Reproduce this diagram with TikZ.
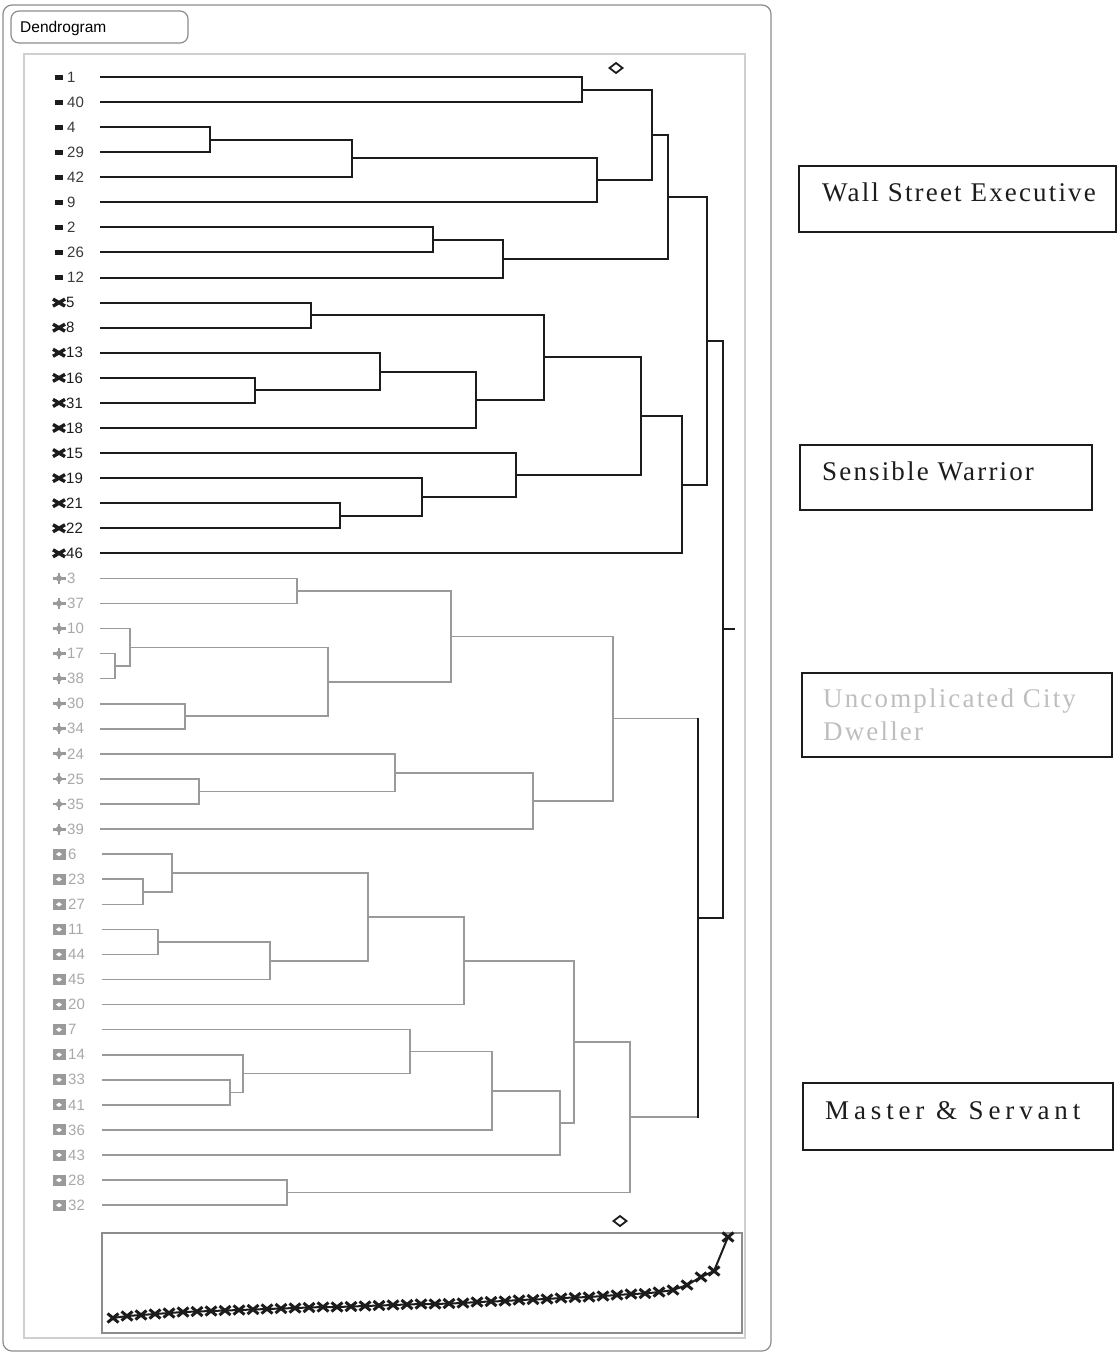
\documentclass[tikz,border=0pt]{standalone}
\usepackage{fontspec}
\setmainfont{Liberation Sans}
\newfontfamily\boxserif[LetterSpace=8]{Liberation Serif}
\newfontfamily\boxserifwide[LetterSpace=18]{Liberation Serif}
\usetikzlibrary{calc}

\definecolor{ink}{HTML}{1C1C1C}
\definecolor{darklabel}{HTML}{3A3A3A}
\definecolor{pale}{HTML}{9A9A9A}
\definecolor{paletext}{HTML}{A8A8A8}
\definecolor{frameline}{HTML}{8C8C8C}
\definecolor{innerline}{HTML}{CFCFCF}
\definecolor{faint}{HTML}{BEBEBE}

% merge two branches at horizontal position #2
% #1 name, #3/#4 children, #5 style of the child links, #6 style of the vertical bar
\newcommand\mergeat[6]{%
  \path let \p1=(#3), \p2=(#4) in (#2pt,{0.5*\y1+0.5*\y2}) coordinate (#1);
  \draw[#5] (#3) -- (#3 -| #1);
  \draw[#5] (#4) -- (#4 -| #1);
  \draw[#6] (#3 -| #1) -- (#4 -| #1);
}

\tikzset{
  darkh/.style={draw=ink, line width=2pt},
  darkv/.style={draw=ink, line width=2pt, line cap=rect},
  paleh/.style={draw=pale, line width=1.6pt},
  palev/.style={draw=pale, line width=1.6pt, line cap=rect},
  lbldark/.style={anchor=west, inner sep=0pt, text=darklabel, font=\fontsize{15}{15}\selectfont},
  lblpale/.style={anchor=west, inner sep=0pt, text=paletext, font=\fontsize{15}{15}\selectfont},
  clusterbox/.style={draw=ink, line width=1.6pt},
  clustertext/.style={anchor=base west, inner sep=0pt, font=\boxserif\fontsize{27}{27}\selectfont},
  sqmark/.pic={\fill[ink] (-4,-2.5) rectangle (4,2.5);},
  xmark/.pic={\draw[ink, line width=3.4pt] (-6,-3.5) -- (6,3.5) (-6,3.5) -- (6,-3.5);},
  plusmark/.pic={\draw[pale, line width=2.8pt] (-6.5,0) -- (6.5,0) (0,-5.5) -- (0,5.5);
                 \fill[pale] (-4,0) -- (0,-4) -- (4,0) -- (0,4) -- cycle;},
  boxmark/.pic={\fill[pale] (-6.5,-5.5) rectangle (6.5,5.5);
                \fill[white] (-3,0) -- (0,-2.2) -- (3,0) -- (0,2.2) -- cycle;},
  chartx/.pic={\draw[ink, line width=3pt] (-5.5,-4.5) -- (5.5,4.5) (-5.5,4.5) -- (5.5,-4.5);},
}

\begin{document}
\begin{tikzpicture}[x=1pt, y=-1pt]
\useasboundingbox (0,0) rectangle (1117,1354);

% panel frames
\draw[frameline, line width=1.2pt, rounded corners=9pt] (3,5) rectangle (771,1351);
\draw[innerline, line width=1.2pt] (24,54) rectangle (745,1338);
\draw[frameline, line width=1.2pt, rounded corners=8pt] (11,11) rectangle (188,43);
\node[anchor=west, inner sep=0pt, font=\fontsize{15.5}{15.5}\selectfont] (title) at (20,28) {Dendrogram};

% leaves
\foreach \id [count=\k from 0] in {1,40,4,29,42,9,2,26,12} {
  \coordinate (L\id) at (100,{77+25.07*\k});
  \pic at (59,{77+25.07*\k}) {sqmark};
  \node[lbldark] (n\id) at (67,{77+25.07*\k}) {\id};
}
\foreach \id [count=\k from 9] in {5,8,13,16,31,18,15,19,21,22,46} {
  \coordinate (L\id) at (100,{77+25.07*\k});
  \pic at (59,{77+25.07*\k}) {xmark};
  \node[lbldark, text=ink] (n\id) at (66,{77+25.07*\k}) {\id};
}
\foreach \id [count=\k from 20] in {3,37,10,17,38,30,34,24,25,35,39} {
  \coordinate (L\id) at (100,{77+25.07*\k});
  \pic at (59,{77+25.07*\k}) {plusmark};
  \node[lblpale] (n\id) at (67,{77+25.07*\k}) {\id};
}
\foreach \id [count=\k from 31] in {6,23,27,11,44,45,20,7,14,33,41,36,43,28,32} {
  \coordinate (L\id) at (102,{77+25.07*\k});
  \pic at (59,{77+25.07*\k}) {boxmark};
  \node[lblpale] (n\id) at (68,{77+25.07*\k}) {\id};
}

% cluster: Wall Street Executive
\mergeat{a1}{582}{L1}{L40}{darkh}{darkv}
\mergeat{a2}{210}{L4}{L29}{darkh}{darkv}
\mergeat{a3}{352}{a2}{L42}{darkh}{darkv}
\mergeat{a4}{597}{a3}{L9}{darkh}{darkv}
\mergeat{a5}{652}{a1}{a4}{darkh}{darkv}
\mergeat{a6}{433}{L2}{L26}{darkh}{darkv}
\mergeat{a7}{503}{a6}{L12}{darkh}{darkv}
\mergeat{a8}{668}{a5}{a7}{darkh}{darkv}

% cluster: Sensible Warrior
\mergeat{b1}{311}{L5}{L8}{darkh}{darkv}
\mergeat{b2}{255}{L16}{L31}{darkh}{darkv}
\mergeat{b3}{380}{L13}{b2}{darkh}{darkv}
\mergeat{b4}{476}{b3}{L18}{darkh}{darkv}
\mergeat{b5}{544}{b1}{b4}{darkh}{darkv}
\mergeat{b6}{340}{L21}{L22}{darkh}{darkv}
\mergeat{b7}{422}{L19}{b6}{darkh}{darkv}
\mergeat{b8}{516}{L15}{b7}{darkh}{darkv}
\mergeat{b9}{641}{b5}{b8}{darkh}{darkv}
\mergeat{b10}{682}{b9}{L46}{darkh}{darkv}

% cluster: Uncomplicated City Dweller
\mergeat{c1}{297}{L3}{L37}{paleh}{palev}
\mergeat{c2}{115}{L17}{L38}{paleh}{palev}
\mergeat{c3}{130}{L10}{c2}{paleh}{palev}
\mergeat{c4}{185}{L30}{L34}{paleh}{palev}
\mergeat{c5}{328}{c3}{c4}{paleh}{palev}
\mergeat{c6}{451}{c1}{c5}{paleh}{palev}
\mergeat{c7}{199}{L25}{L35}{paleh}{palev}
\mergeat{c8}{395}{L24}{c7}{paleh}{palev}
\mergeat{c9}{533}{c8}{L39}{paleh}{palev}
\mergeat{c10}{613}{c6}{c9}{paleh}{palev}

% cluster: Master & Servant
\mergeat{d1}{143}{L23}{L27}{paleh}{palev}
\mergeat{d2}{172}{L6}{d1}{paleh}{palev}
\mergeat{d3}{158}{L11}{L44}{paleh}{palev}
\mergeat{d4}{270}{d3}{L45}{paleh}{palev}
\mergeat{d5}{368}{d2}{d4}{paleh}{palev}
\mergeat{d6}{464}{d5}{L20}{paleh}{palev}
\mergeat{d7}{230}{L33}{L41}{paleh}{palev}
\mergeat{d8}{243}{L14}{d7}{paleh}{palev}
\mergeat{d9}{410}{L7}{d8}{paleh}{palev}
\mergeat{d10}{492}{d9}{L36}{paleh}{palev}
\mergeat{d11}{560}{d10}{L43}{paleh}{palev}
\mergeat{d12}{574}{d6}{d11}{paleh}{palev}
\mergeat{d13}{287}{L28}{L32}{paleh}{palev}
\mergeat{d14}{630}{d12}{d13}{paleh}{palev}

% upper levels
\mergeat{t12}{707}{a8}{b10}{darkh}{darkv}
\mergeat{t34}{698}{c10}{d14}{paleh}{darkv}
\mergeat{root}{723}{t12}{t34}{darkh}{darkv}
\coordinate (rootend) at (735,0);
\draw[darkh] (root) -- (root -| rootend);

% cut marker
\draw[ink, line width=1.8pt] (616,63) -- (622.5,68) -- (616,73) -- (609.5,68) -- cycle;

% merge-height chart
\draw[frameline, line width=1.2pt] (102,1233) rectangle (742,1333);
\draw[ink, line width=1.8pt] (620,1216) -- (626.5,1221) -- (620,1226) -- (613.5,1221) -- cycle;
\def\chartpts{127/1316, 141/1315, 155/1314, 169/1313, 183/1312,
  197/1311.5, 211/1311, 225/1310.5, 239/1310, 253/1309.5, 267/1309,
  281/1308.5, 295/1308, 309/1307.5, 323/1307, 337/1307, 351/1306.5,
  365/1306, 379/1305.5, 393/1305, 407/1304.5, 421/1304, 435/1304,
  449/1303.5, 463/1303, 477/1302, 491/1301.5, 505/1301, 519/1300,
  533/1299.5, 547/1299, 561/1298, 575/1297.5, 589/1297, 603/1296,
  617/1295, 631/1294, 645/1293.5, 659/1292, 673/1290, 687/1285,
  701/1277, 714/1271, 728/1237}
\draw[ink, line width=2pt] (113,1318) \foreach \px/\py in \chartpts { -- (\px,\py) };
\pic at (113,1318) {chartx};
\foreach \px/\py in \chartpts { \pic at (\px,\py) {chartx}; }

% cluster names
\draw[clusterbox] (799,166) rectangle (1116,232);
\node[clustertext, text=ink] (wse) at (822,201) {Wall Street Executive};
\draw[clusterbox] (800,445) rectangle (1092,510);
\node[clustertext, text=ink] (sw) at (822,480) {Sensible Warrior};
\draw[clusterbox] (802,673) rectangle (1112,757);
\node[clustertext, text=faint] (ucd1) at (823,707) {Uncomplicated City};
\node[clustertext, text=faint] (ucd2) at (823,740) {Dweller};
\draw[clusterbox] (803,1083) rectangle (1113,1150);
\node[clustertext, text=ink, font=\boxserifwide\fontsize{27}{27}\selectfont] (ms) at (825,1119) {Master \& Servant};
\end{tikzpicture}
\end{document}
